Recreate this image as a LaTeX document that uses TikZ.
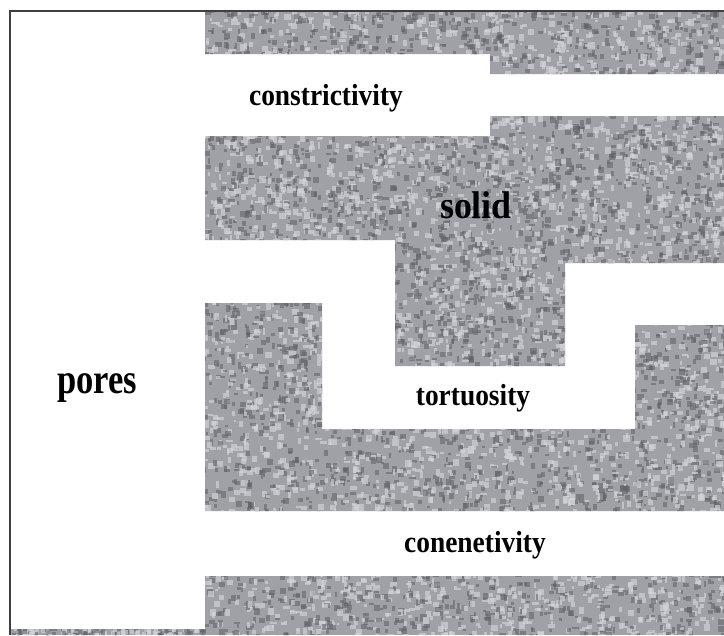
\documentclass[tikz,border=0pt]{standalone}
\usepackage{fontspec}
\setmainfont{Liberation Serif}

\definecolor{rockbase}{RGB}{160,161,166}
\definecolor{rockdark}{RGB}{96,97,103}
\definecolor{rocklight}{RGB}{212,213,218}

\tikzset{
  channel/.style={font=\fontsize{26}{30}\selectfont\bfseries, xscale=0.9, inner sep=0pt, anchor=base},
  bigword/.style={font=\fontsize{33}{38}\selectfont\bfseries, xscale=0.93, inner sep=0pt, anchor=base},
  frameline/.style={draw=black!75, line width=1.5pt}
}

\begin{document}
\begin{tikzpicture}[x=0.03cm,y=-0.03cm]
\useasboundingbox (0,0) rectangle (724,635);
\fill[white] (0,0) rectangle (724,635);

% solid grains
\begin{scope}
\clip (205,11) -- (724,11) -- (724,74) -- (490,74) -- (490,54) -- (205,54) -- cycle
      (205,136) -- (490,136) -- (490,116) -- (724,116) -- (724,263) -- (565,263)
        -- (565,366) -- (395,366) -- (395,240) -- (205,240) -- cycle
      (205,303) -- (322,303) -- (322,429) -- (635,429) -- (635,325) -- (724,325)
        -- (724,511) -- (205,511) -- cycle
      (205,576) -- (724,576) -- (724,635) -- (10,635) -- (10,629) -- (205,629) -- cycle;
\fill[rockbase] (0,0) rectangle (724,635);
\pgfmathsetseed{17}
\foreach \i in {1,...,4200}{
  \fill[rockdark, opacity=0.55] ({203+521*rnd},{8+627*rnd}) rectangle ++({2+4.5*rnd},{2+4.5*rnd});
  \fill[rocklight, opacity=0.65] ({203+521*rnd},{8+627*rnd}) rectangle ++({2+5*rnd},{2+5*rnd});
}
\foreach \i in {1,...,80}{
  \fill[rockdark, opacity=0.55] ({10+195*rnd},{627+8*rnd}) rectangle ++(4,4);
  \fill[rocklight, opacity=0.65] ({10+195*rnd},{627+8*rnd}) rectangle ++(4,4);
}
\end{scope}

% frame
\draw[frameline] (724,11) -- (10,11) -- (10,635);

% labels
\node[channel] (constr) at (326,105) {constrictivity};
\node[bigword] (solid) at (476,218) {solid};
\node[bigword, xscale=0.88, font=\fontsize{36}{42}\selectfont\bfseries] (pores) at (97,393) {pores};
\node[channel] (tort) at (473,405) {tortuosity};
\node[channel] (conn) at (475,552) {conenetivity};
\end{tikzpicture}
\end{document}
